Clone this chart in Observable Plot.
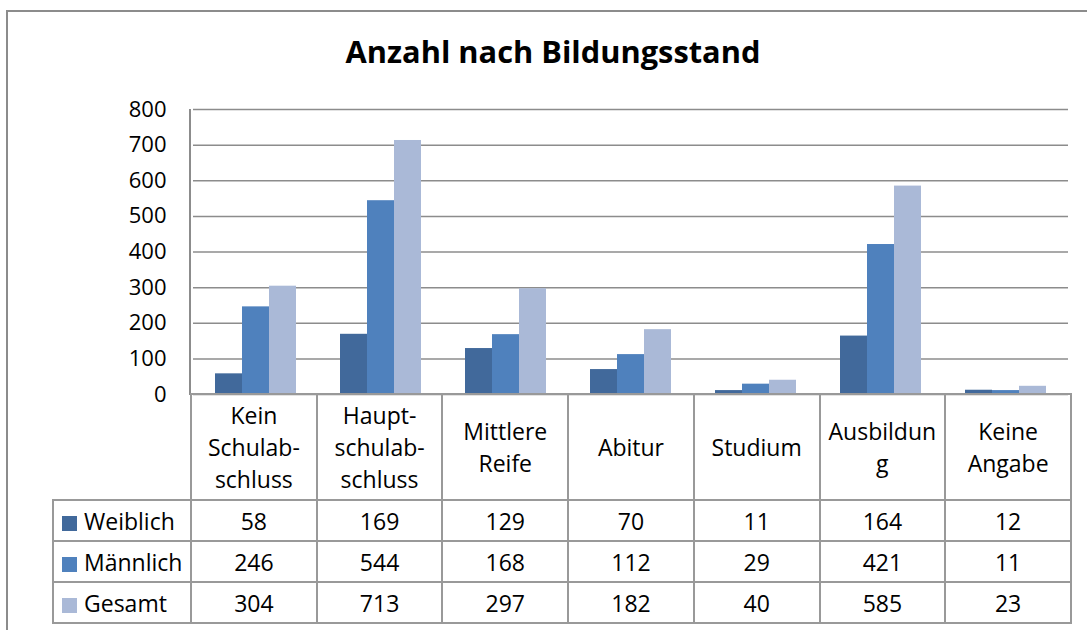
<!DOCTYPE html>
<html>
<head>
<meta charset="utf-8">
<script src="https://cdn.jsdelivr.net/npm/d3@7"></script>
<script src="https://cdn.jsdelivr.net/npm/@observablehq/plot@0.6"></script>
<style>
  html, body { margin: 0; padding: 0; background: #fff; }
  #chart { position: relative; width: 1087px; height: 630px; overflow: hidden; background: #fff; font-family: "Open Sans", sans-serif; color: #000; }
  #outer { position: absolute; left: 6px; top: 10px; width: 1200px; height: 800px; border-top: 2px solid #8c8c8c; border-left: 2px solid #8c8c8c; box-sizing: border-box; }
  #title { position: absolute; left: 0; top: 31px; width: 1106px; text-align: center; font-weight: 700; font-size: 30.8px; line-height: 41px; }
  #plot { position: absolute; left: 0; top: 0; }
  #plot svg text { font-size: 22px !important; fill: #000; }
  #yline { position: absolute; left: 189px; top: 109px; width: 2px; height: 286px; background: #8c8c8c; }
  #tbl { position: absolute; left: 52px; top: 393px; border-collapse: collapse; table-layout: fixed; width: 1020px; font-size: 23px; }
  #tbl td { border: 2px solid #999; padding: 0; text-align: center; vertical-align: middle; }
  #tbl tr.head td { height: 104px; line-height: 32px; }
  #tbl tr.row td { height: 39px; line-height: 30px; }
  #tbl td.blank { border-top: none; border-left: none; }
  #tbl td.leg { text-align: left; padding-left: 8px; white-space: nowrap; }
  .sw { display: inline-block; width: 15px; height: 15px; margin-right: 7px; vertical-align: -1px; }
</style>
</head>
<body>
<div id="chart">
  <div id="outer"></div>
  <div id="title">Anzahl nach Bildungsstand</div>
  <div id="plot"></div>
  <div id="yline"></div>
  <table id="tbl"></table>
</div>
<script>
const categories = ["Kein Schulabschluss", "Hauptschulabschluss", "Mittlere Reife", "Abitur", "Studium", "Ausbildung", "Keine Angabe"];
const categoryLabels = [["Kein", "Schulab-", "schluss"], ["Haupt-", "schulab-", "schluss"], ["Mittlere", "Reife"], ["Abitur"], ["Studium"], ["Ausbildun", "g"], ["Keine", "Angabe"]];
const series = ["Weiblich", "Männlich", "Gesamt"];
const weiblich = [58, 169, 129, 70, 11, 164, 12];
const maennlich = [246, 544, 168, 112, 29, 421, 11];
const gesamt = [304, 713, 297, 182, 40, 585, 23];
const yTicks = [0, 100, 200, 300, 400, 500, 600, 700, 800];
const colors = ["#41699B", "#4F81BD", "#AAB9D7"];

const seriesValues = [weiblich, maennlich, gesamt];
const data = categories.flatMap((c, i) => series.map((s, j) => ({category: c, series: s, value: seriesValues[j][i]})));

const plot = Plot.plot({
  width: 1087,
  height: 420,
  marginLeft: 190,
  marginRight: 16,
  marginTop: 109,
  marginBottom: 26,
  style: {fontFamily: "'Open Sans', sans-serif", fontSize: "22px", color: "#000", background: "transparent", overflow: "visible"},
  fx: {domain: categories, padding: 0, axis: null},
  x: {domain: series, paddingInner: 0, paddingOuter: 0.75, axis: null},
  y: {domain: [0, 800], label: null},
  color: {domain: series, range: colors},
  marks: [
    Plot.gridY(yTicks, {stroke: "#8c8c8c", strokeOpacity: 1, strokeWidth: 1.5}),
    Plot.axisY(yTicks, {tickSize: 0, tickPadding: 27, tickFormat: d => String(d), fontSize: 22, label: null}),
    Plot.barY(data, {fx: "category", x: "series", y: "value", fill: "series"})
  ]
});
document.getElementById("plot").appendChild(plot);

// Data table below the chart
const tbl = document.getElementById("tbl");
const colgroup = document.createElement("colgroup");
const c0 = document.createElement("col"); c0.style.width = "138px"; colgroup.appendChild(c0);
categories.forEach(() => { const c = document.createElement("col"); colgroup.appendChild(c); });
tbl.appendChild(colgroup);

const head = document.createElement("tr");
head.className = "head";
const blank = document.createElement("td"); blank.className = "blank"; head.appendChild(blank);
categoryLabels.forEach(lines => {
  const td = document.createElement("td");
  lines.forEach((l, k) => { if (k) td.appendChild(document.createElement("br")); td.appendChild(document.createTextNode(l)); });
  head.appendChild(td);
});
tbl.appendChild(head);

series.forEach((s, j) => {
  const tr = document.createElement("tr");
  tr.className = "row";
  const leg = document.createElement("td"); leg.className = "leg";
  const sw = document.createElement("span"); sw.className = "sw"; sw.style.background = colors[j];
  leg.appendChild(sw); leg.appendChild(document.createTextNode(s));
  tr.appendChild(leg);
  seriesValues[j].forEach(v => { const td = document.createElement("td"); td.textContent = v; tr.appendChild(td); });
  tbl.appendChild(tr);
});
</script>
</body>
</html>
